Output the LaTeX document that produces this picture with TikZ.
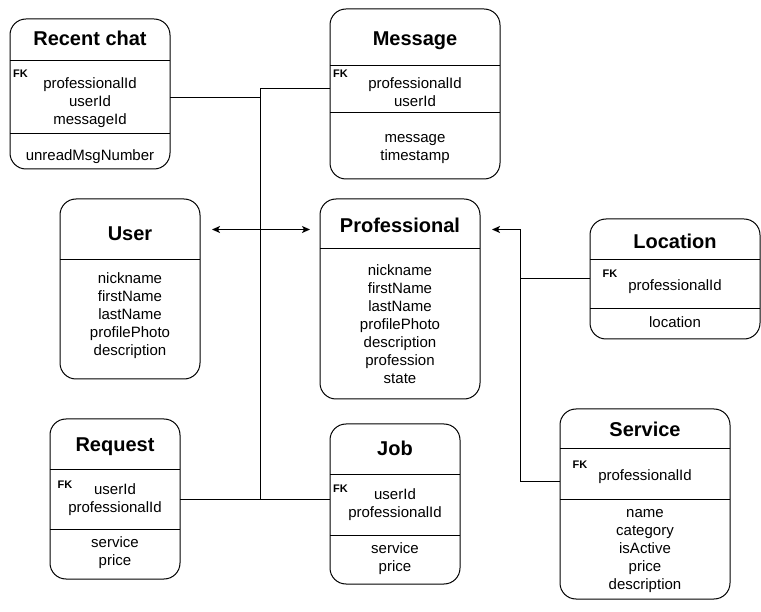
\documentclass[tikz,border=0pt]{standalone}
\usepackage{fontspec}
\setmainfont{Liberation Sans}
\usetikzlibrary{arrows.meta}
\begin{document}
\begin{tikzpicture}[x=1pt,y=-1pt,
  entity/.style={draw, line width=1pt, rounded corners=16pt, inner sep=0pt, outer sep=0pt},
  ttl/.style={font=\fontsize{20}{24}\selectfont\bfseries, anchor=base, inner sep=0pt, yshift=-1pt},
  attr/.style={font=\fontsize{15}{18}\selectfont, anchor=base, inner sep=0pt, yshift=-0.8pt},
  fk/.style={font=\fontsize{11}{13}\selectfont\bfseries, anchor=base west, inner sep=0pt, yshift=-0.5pt},
  divider/.style={line width=1pt},
  conn/.style={line width=1pt},
  tip/.tip={Stealth[length=8pt,width=7pt,inset=2pt]}
]
\useasboundingbox (0,0) rectangle (761,612);

% ---------- Recent chat ----------
\node[entity, minimum width=160pt, minimum height=150pt] (recent) at (90,94) {};
\draw[divider] (recent.west |- 0,61) -- (recent.east |- 0,61);
\draw[divider] (recent.west |- 0,134) -- (recent.east |- 0,134);
\node[ttl] (recent-t) at (90,45) {Recent chat};
\node[fk] (recent-fk) at (13,77) {FK};
\foreach \t [count=\i] in {professionalId,userId,messageId}
  \node[attr] (recent-k\i) at (90,{87.5+18*(\i-1)}) {\t};
\node[attr] (recent-a1) at (90,159.5) {unreadMsgNumber};

% ---------- Message ----------
\node[entity, minimum width=170pt, minimum height=170pt] (msg) at (415,94) {};
\draw[divider] (msg.west |- 0,66) -- (msg.east |- 0,66);
\draw[divider] (msg.west |- 0,113) -- (msg.east |- 0,113);
\node[ttl] (msg-t) at (415,45) {Message};
\node[fk] (msg-fk) at (333,77) {FK};
\foreach \t [count=\i] in {professionalId,userId}
  \node[attr] (msg-k\i) at (415,{87.5+18*(\i-1)}) {\t};
\foreach \t [count=\i] in {message,timestamp}
  \node[attr] (msg-a\i) at (415,{141.5+18*(\i-1)}) {\t};

% ---------- User ----------
\node[entity, minimum width=140pt, minimum height=180pt] (user) at (130,289) {};
\draw[divider] (user.west |- 0,259.5) -- (user.east |- 0,259.5);
\node[ttl] (user-t) at (130,239.5) {User};
\foreach \t [count=\i] in {nickname,firstName,lastName,profilePhoto,description}
  \node[attr] (user-a\i) at (130,{282.5+18*(\i-1)}) {\t};

% ---------- Professional ----------
\node[entity, minimum width=160pt, minimum height=200pt] (prof) at (400,299) {};
\draw[divider] (prof.west |- 0,249) -- (prof.east |- 0,249);
\node[ttl] (prof-t) at (400,231.5) {Professional};
\foreach \t [count=\i] in {nickname,firstName,lastName,profilePhoto,description,profession,state}
  \node[attr] (prof-a\i) at (400,{274.5+18*(\i-1)}) {\t};

% ---------- Location ----------
\node[entity, minimum width=170pt, minimum height=120pt] (loc) at (675,279) {};
\draw[divider] (loc.west |- 0,260) -- (loc.east |- 0,260);
\draw[divider] (loc.west |- 0,309) -- (loc.east |- 0,309);
\node[ttl] (loc-t) at (675,248) {Location};
\node[fk] (loc-fk) at (602.5,277.5) {FK};
\node[attr] (loc-k1) at (675,290) {professionalId};
\node[attr] (loc-a1) at (675,326.5) {location};

% ---------- Service ----------
\node[entity, minimum width=170pt, minimum height=190pt] (serv) at (645,504) {};
\draw[divider] (serv.west |- 0,449) -- (serv.east |- 0,449);
\draw[divider] (serv.west |- 0,499) -- (serv.east |- 0,499);
\node[ttl] (serv-t) at (645,436) {Service};
\node[fk] (serv-fk) at (572.5,467.5) {FK};
\node[attr] (serv-k1) at (645,480) {professionalId};
\foreach \t [count=\i] in {name,category,isActive,price,description}
  \node[attr] (serv-a\i) at (645,{516.5+18*(\i-1)}) {\t};

% ---------- Request ----------
\node[entity, minimum width=130pt, minimum height=160pt] (req) at (115,499) {};
\draw[divider] (req.west |- 0,469) -- (req.east |- 0,469);
\draw[divider] (req.west |- 0,529) -- (req.east |- 0,529);
\node[ttl] (req-t) at (115,450) {Request};
\node[fk] (req-fk) at (57.5,487.5) {FK};
\foreach \t [count=\i] in {userId,professionalId}
  \node[attr] (req-k\i) at (115,{493.5+18*(\i-1)}) {\t};
\foreach \t [count=\i] in {service,price}
  \node[attr] (req-a\i) at (115,{546.5+18*(\i-1)}) {\t};

% ---------- Job ----------
\node[entity, minimum width=130pt, minimum height=160pt] (job) at (395,504) {};
\draw[divider] (job.west |- 0,474) -- (job.east |- 0,474);
\draw[divider] (job.west |- 0,535) -- (job.east |- 0,535);
\node[ttl] (job-t) at (395,454.5) {Job};
\node[fk] (job-fk) at (333,492.5) {FK};
\foreach \t [count=\i] in {userId,professionalId}
  \node[attr] (job-k\i) at (395,{498.5+18*(\i-1)}) {\t};
\foreach \t [count=\i] in {service,price}
  \node[attr] (job-a\i) at (395,{552.5+18*(\i-1)}) {\t};

% ---------- Connectors ----------
\coordinate (spine-top) at (260,89);
\coordinate (spine-rc) at (260,97.5);
\coordinate (spine-bot) at (260,499);
\draw[conn] (recent.east |- spine-rc) -- (spine-rc);
\draw[conn] (msg.west |- spine-top) -- (spine-top) -- (spine-bot);
\draw[conn] (req.east |- spine-bot) -- (job.west |- spine-bot);

\draw[conn, tip-tip, shorten <=12pt, shorten >=10pt] (user.east |- 0,229.5) -- (prof.west |- 0,229.5);

\coordinate (rj) at (520,279);
\draw[conn, -tip, shorten >=12pt] (loc.west |- rj) -- (rj) |- (prof.east |- 0,229.5);
\draw[conn] (serv.west |- 0,481) -| (rj);
\end{tikzpicture}
\end{document}
